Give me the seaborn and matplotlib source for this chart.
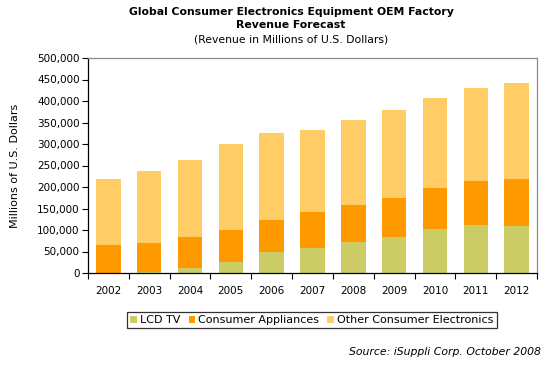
import numpy as np
import pandas as pd
import matplotlib.pyplot as plt
import seaborn as sns
from matplotlib.patches import Patch
from matplotlib.ticker import FuncFormatter, MultipleLocator

## Data (millions of US dollars)
years = ["2002", "2003", "2004", "2005", "2006", "2007", "2008", "2009", "2010", "2011", "2012"]
lcd_tv = [0, 2000, 12000, 25000, 48000, 59000, 71000, 83000, 102000, 112000, 109000]
consumer_appliances = [65000, 68000, 72000, 76000, 76000, 82000, 86000, 91000, 95000, 101000, 109000]
other_ce = [154000, 167000, 179000, 199000, 202000, 191000, 198000, 204000, 209000, 217000, 223000]

series = ["LCD TV", "Consumer Appliances", "Other Consumer Electronics"]
colors = ["#CCCC66", "#FF9900", "#FFCC66"]

df = pd.DataFrame({"year": years, "LCD TV": lcd_tv,
                   "Consumer Appliances": consumer_appliances,
                   "Other Consumer Electronics": other_ce})
df["cum_lcd"] = df["LCD TV"]
df["cum_ca"] = df["cum_lcd"] + df["Consumer Appliances"]
df["cum_all"] = df["cum_ca"] + df["Other Consumer Electronics"]

sns.set_style("white")
plt.rcParams["font.family"] = ["DejaVu Sans"]
plt.rcParams["text.color"] = "black"
plt.rcParams["axes.labelcolor"] = "black"
plt.rcParams["xtick.color"] = "black"
plt.rcParams["ytick.color"] = "black"

fig = plt.figure(figsize=(5.47, 3.80), dpi=100)
ax = fig.add_axes([88 / 547, 1 - 273 / 380, 449 / 547, 215 / 380])

# stacked bars: draw the tallest first, then cover it
for col, c in zip(["cum_all", "cum_ca", "cum_lcd"], colors[::-1]):
    sns.barplot(data=df, x="year", y=col, order=years, color=c, width=0.6,
                saturation=1, ax=ax, edgecolor="none")

ax.set_xlim(-0.5, len(years) - 0.5)
ax.set_ylim(0, 500000)
ax.yaxis.set_major_locator(MultipleLocator(50000))
ax.yaxis.set_major_formatter(FuncFormatter(lambda v, p: f"{int(v):,}"))
ax.set_xlabel("")
ax.set_ylabel("Millions of U.S. Dollars", fontsize=8, labelpad=12)

# ticks at category boundaries on x
ax.set_xticks(np.arange(len(years)))
ax.set_xticklabels(years)
ax.set_xticks(np.arange(-0.5, len(years)), minor=True)
ax.tick_params(axis="x", which="major", length=0, labelsize=7.5, pad=9)
ax.tick_params(axis="x", which="minor", length=4, width=0.8, color="black", direction="out")
ax.tick_params(axis="y", length=4, width=0.8, color="black", direction="out", labelsize=7.5, pad=2)
ax.xaxis.set_ticks_position("bottom")
ax.yaxis.set_ticks_position("left")

for s in ["left", "bottom"]:
    ax.spines[s].set_color("black")
    ax.spines[s].set_linewidth(0.9)
for s in ["top", "right"]:
    ax.spines[s].set_color("#8c8c8c")
    ax.spines[s].set_linewidth(0.9)

# titles
fig.text(291 / 547, 1 - 12 / 380, "Global Consumer Electronics Equipment OEM Factory",
         ha="center", va="center", fontsize=7.8, fontweight="bold")
fig.text(291 / 547, 1 - 25 / 380, "Revenue Forecast",
         ha="center", va="center", fontsize=7.8, fontweight="bold")
fig.text(291 / 547, 1 - 39 / 380, "(Revenue in Millions of U.S. Dollars)",
         ha="center", va="center", fontsize=7.8)

# legend
handles = [Patch(facecolor=c, edgecolor="none", label=s) for s, c in zip(series, colors)]
leg = fig.legend(handles=handles, loc="center", bbox_to_anchor=(312 / 547, 1 - 320 / 380),
                 ncol=3, frameon=True, fontsize=8, handlelength=0.6, handleheight=0.6,
                 handletextpad=0.3, columnspacing=0.7, borderpad=0.3, fancybox=False)
leg.get_frame().set_edgecolor("black")
leg.get_frame().set_linewidth(0.9)

fig.text(541 / 547, 1 - 352 / 380, "Source: iSuppli Corp. October 2008",
         ha="right", va="center", fontsize=7.8, style="italic")

fig.savefig("out.png", dpi=100)
